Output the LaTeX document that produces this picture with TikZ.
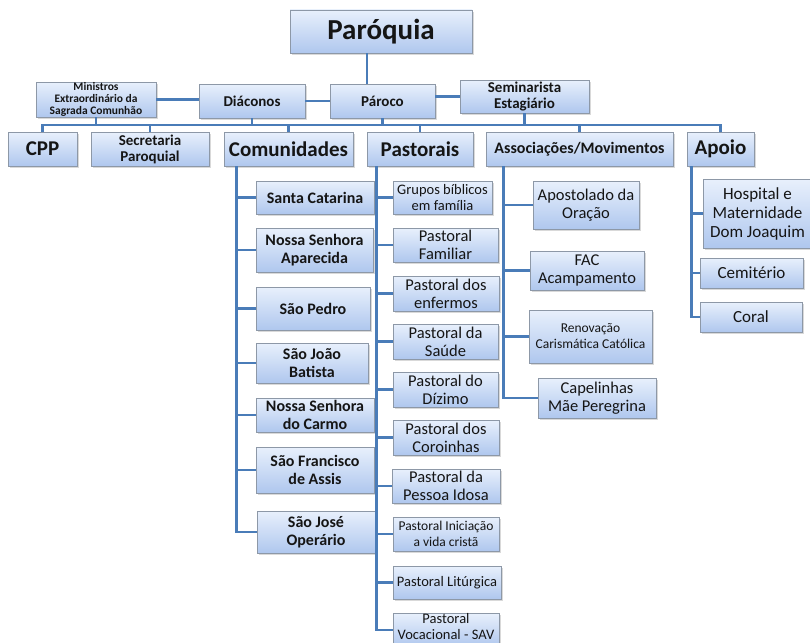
\documentclass[tikz,border=0pt]{standalone}
\usepackage{fontspec}
\setmainfont{Carlito}
\usepackage{tikz}
\usetikzlibrary{calc, positioning, shadows}

\definecolor{boxtop}{HTML}{E8F0FC}
\definecolor{boxbottom}{HTML}{AFC7EE}
\definecolor{boxedge}{HTML}{8D98A7}
\definecolor{linkblue}{HTML}{4A7CB8}
\definecolor{ink}{HTML}{151515}

\tikzset{
	box/.style={draw=boxedge, line width=0.9pt, top color=boxtop, bottom color=boxbottom,
		text=ink, align=center, inner sep=0pt,
		drop shadow={shadow xshift=1.6pt, shadow yshift=-1.6pt, opacity=0.3}},
	wh/.style 2 args={minimum width=#1pt, minimum height=#2pt},
	link/.style={draw=linkblue, line width=2.2pt},
	txtbig/.style={font=\fontsize{29}{31}\selectfont\bfseries},
	txthead/.style={font=\fontsize{21}{23}\selectfont\bfseries},
	txtassoc/.style={font=\fontsize{16}{17}\selectfont\bfseries},
	txtmid/.style={font=\fontsize{15}{16}\selectfont\bfseries},
	txtsmall/.style={font=\fontsize{11.5}{11.8}\selectfont\bfseries},
	txtcom/.style={font=\fontsize{16}{18}\selectfont\bfseries},
	txtitem/.style={font=\fontsize{16.5}{18}\selectfont},
	txtnarrow/.style={font=\fontsize{14.5}{16}\selectfont},
	txtsub/.style={font=\fontsize{13.5}{16}\selectfont},
	txtapoio/.style={font=\fontsize{17}{19}\selectfont},
}

\begin{document}
\begin{tikzpicture}[x=1pt, y=-1pt]
	\useasboundingbox (0,0) rectangle (810,642);
	\clip (0,0) rectangle (810,642);

	% top and second row
	\node (paroquia) at (381,31.5) [box, wh={182}{43}, txtbig] {Paróquia};
	\node (minis) at (96,99.5) [box, wh={120}{35}, txtsmall] {Ministros\\Extraordinário da\\Sagrada Comunhão};
	\node (diaconos) at (252,101) [box, wh={106}{34}, txtmid] {Diáconos};
	\node (paroco) at (382.5,101) [box, wh={105}{34}, txtmid] {Pároco};
	\node (semin) at (524.5,96.5) [box, wh={129}{33}, txtmid] {Seminarista\\Estagiário};

	% third row
	\node (cpp) at (42.5,149) [box, wh={69}{34}, txthead] {CPP};
	\node (secret) at (150,149) [box, wh={118}{34}, txtmid] {Secretaria\\Paroquial};
	\node (comun) at (288.5,149) [box, wh={129}{34}, txthead] {Comunidades};
	\node (pastor) at (420,149) [box, wh={106}{34}, txthead] {Pastorais};
	\node (assoc) at (579.5,149) [box, wh={187}{34}, txtassoc] {Associações/Movimentos};
	\node (apoio) at (720.5,149) [box, wh={67}{34}, txthead] {Apoio};

	% comunidades
	\node (santa) at (315,197.5) [box, wh={118}{33}, txtcom] {Santa Catarina};
	\node (aparecida) at (314.5,250) [box, wh={117}{44}, txtcom] {Nossa Senhora\\Aparecida};
	\node (pedro) at (313,308.5) [box, wh={114}{43}, txtcom] {São Pedro};
	\node (joao) at (312,363) [box, wh={112}{40}, txtcom] {São João\\Batista};
	\node (carmo) at (315,415) [box, wh={118}{34}, txtcom] {Nossa Senhora\\do Carmo};
	\node (francisco) at (315,470) [box, wh={118}{46}, txtcom] {São Francisco\\de Assis};
	\node (jose) at (316,532) [box, wh={118}{42}, txtcom] {São José\\Operário};

	% pastorais
	\node (grupos) at (442.5,197.5) [box, wh={99}{33}, txtnarrow] {Grupos bíblicos\\em família};
	\node (familiar) at (445.5,245) [box, wh={105}{34}, txtitem] {Pastoral\\Familiar};
	\node (enfermos) at (446,293.5) [box, wh={106}{35}, txtitem] {Pastoral dos\\enfermos};
	\node (saude) at (445.5,341.5) [box, wh={105}{35}, txtitem] {Pastoral da\\Saúde};
	\node (dizimo) at (445.5,389.5) [box, wh={105}{35}, txtitem] {Pastoral do\\Dízimo};
	\node (coroinhas) at (446,437.5) [box, wh={106}{35}, txtitem] {Pastoral dos\\Coroinhas};
	\node (idosa) at (446,486) [box, wh={108}{34}, txtitem] {Pastoral da\\Pessoa Idosa};
	\node (iniciacao) at (446,534) [box, wh={106}{34}, txtsub] {Pastoral Iniciação\\a vida cristã};
	\node (liturgica) at (447,582.5) [box, wh={108}{33}, txtnarrow] {Pastoral Litúrgica};
	\node (vocacional) at (446,629) [box, wh={106}{34}, txtnarrow, yshift=-1pt] {\\[-13pt]Pastoral\\Vocacional - SAV};

	% associacoes
	\node (apost) at (586,205) [box, wh={106}{48}, txtitem] {Apostolado da\\Oração};
	\node (fac) at (587,270.5) [box, wh={114}{39}, txtitem] {FAC\\Acampamento};
	\node (renov) at (590.5,336.5) [box, wh={123}{53}, txtsub] {Renovação\\Carismática Católica};
	\node (capel) at (597,398) [box, wh={118}{40}, txtitem] {Capelinhas\\Mãe Peregrina};

	% apoio
	\node (hospital) at (757.5,213.5) [box, wh={109}{69}, txtapoio] {Hospital e\\Maternidade\\Dom Joaquim};
	\node (cemit) at (751.5,273) [box, wh={103}{30}, txtapoio] {Cemitério};
	\node (coral) at (751,317) [box, wh={102}{30}, txtapoio] {Coral};

	% links at the top
	\draw[link] ([xshift=-14pt]paroquia.south) -- ([xshift=-14pt]paroquia.south |- paroco.north);
	\draw[link] (minis.east) -- (minis.east -| diaconos.west);
	\draw[link] (diaconos) -- (paroco);
	\draw[link] (semin.west) -- (semin.west -| paroco.east);

	\coordinate (bus) at (0,125);
	\draw[link] (cpp.north) |- (apoio.north |- bus) -- (apoio.north);
	\foreach \n in {minis, diaconos, paroco, semin}
		\draw[link] (\n.south) -- (\n.south |- bus);
	\foreach \n in {secret, comun, pastor, assoc}
		\draw[link] (\n.north |- bus) -- (\n.north);

	% trunks
	\coordinate (comtrunk) at ([xshift=13pt]comun.south west);
	\coordinate (pastrunk) at ([xshift=10pt]pastor.south west);
	\coordinate (assoctrunk) at ([xshift=18pt]assoc.south west);
	\coordinate (apoiotrunk) at ([xshift=5pt]apoio.south west);

	\foreach \n in {santa, aparecida, pedro, joao, carmo, francisco, jose}
		\draw[link] (comtrunk) |- (\n.west);
	\foreach \n in {grupos, familiar, enfermos, saude, dizimo, coroinhas, idosa, iniciacao, liturgica, vocacional}
		\draw[link] (pastrunk) |- (\n.west);
	\foreach \n in {apost, fac, renov, capel}
		\draw[link] (assoctrunk) |- (\n.west);
	\foreach \n in {hospital, cemit, coral}
		\draw[link] (apoiotrunk) |- (\n.west);
\end{tikzpicture}
\end{document}
